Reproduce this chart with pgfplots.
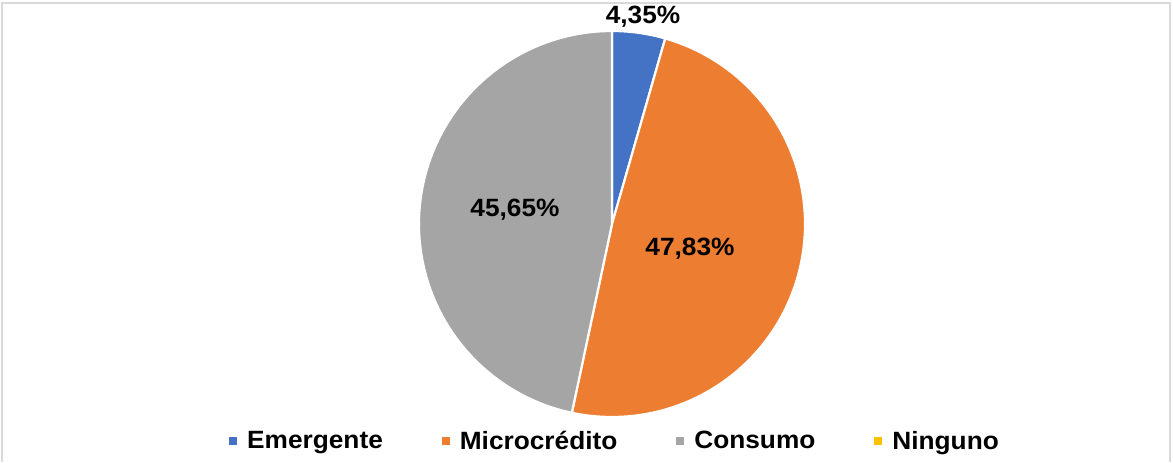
\documentclass[border=0pt]{standalone}
\usepackage{fontspec}
\setmainfont{Liberation Sans}
\newfontfamily\labfont{Liberation Sans}[FakeStretch=1.05]
\usepackage{pgfplots}
\pgfplotsset{compat=1.18}
\definecolor{cEm}{HTML}{4472C4}
\definecolor{cMi}{HTML}{ED7D31}
\definecolor{cCo}{HTML}{A5A5A5}
\definecolor{cNi}{HTML}{FFC000}
\definecolor{frame}{HTML}{D9D9D9}
% data (percent)
\def\vEm{4.35}
\def\vMi{47.83}
\def\vCo{45.65}
\def\vNi{0}
\begin{document}
\begin{tikzpicture}
\pgfmathsetmacro{\tot}{\vEm+\vMi+\vCo+\vNi}
\pgfmathsetmacro{\aA}{\vEm/\tot*360}
\pgfmathsetmacro{\aB}{(\vEm+\vMi)/\tot*360}
\pgfmathsetmacro{\aC}{(\vEm+\vMi+\vCo)/\tot*360}
\begin{axis}[
  scale only axis, width=1173bp, height=462bp,
  xmin=0, xmax=1173, ymin=0, ymax=462, y dir=reverse,
  hide axis, clip=false,
  legend columns=4,
  legend style={at={(axis cs:615,441)}, anchor=center, draw=none, fill=none,
    font=\fontsize{25bp}{28bp}\labfont\bfseries,
    /tikz/every even column/.append style={column sep=57bp},
    /tikz/every odd column/.append style={column sep=8bp},
    legend cell align=left},
  legend image code/.code={\fill[#1,draw=none] (0bp,-4bp) rectangle (8bp,4bp);},
]
\path[draw=frame, line width=1.2bp] (2,462) -- (2,3) -- (1170,3) -- (1170,462);
\addplot[fill=cEm, draw=white, line width=2.2bp, domain=0:\aA, samples=20, variable=\t]
  ({612+193*sin(t)},{224-193*cos(t)}) -- (612,224) -- cycle;
\addlegendentry{Emergente}
\addplot[fill=cMi, draw=white, line width=2.2bp, domain=\aA:\aB, samples=120, variable=\t]
  ({612+193*sin(t)},{224-193*cos(t)}) -- (612,224) -- cycle;
\addlegendentry{Microcrédito}
\addplot[fill=cCo, draw=white, line width=2.2bp, domain=\aB:\aC, samples=120, variable=\t]
  ({612+193*sin(t)},{224-193*cos(t)}) -- (612,224) -- cycle;
\addlegendentry{Consumo}
\addlegendimage{fill=cNi, draw=none}
\addlegendentry{Ninguno}
\node[font=\fontsize{25bp}{28bp}\labfont\bfseries] at (643,17) {4,35\%};
\node[font=\fontsize{25bp}{28bp}\labfont\bfseries] at (690,249) {47,83\%};
\node[font=\fontsize{25bp}{28bp}\labfont\bfseries] at (515,210) {45,65\%};
\path (0,0) rectangle (1173,462);
\end{axis}
\end{tikzpicture}
\end{document}
